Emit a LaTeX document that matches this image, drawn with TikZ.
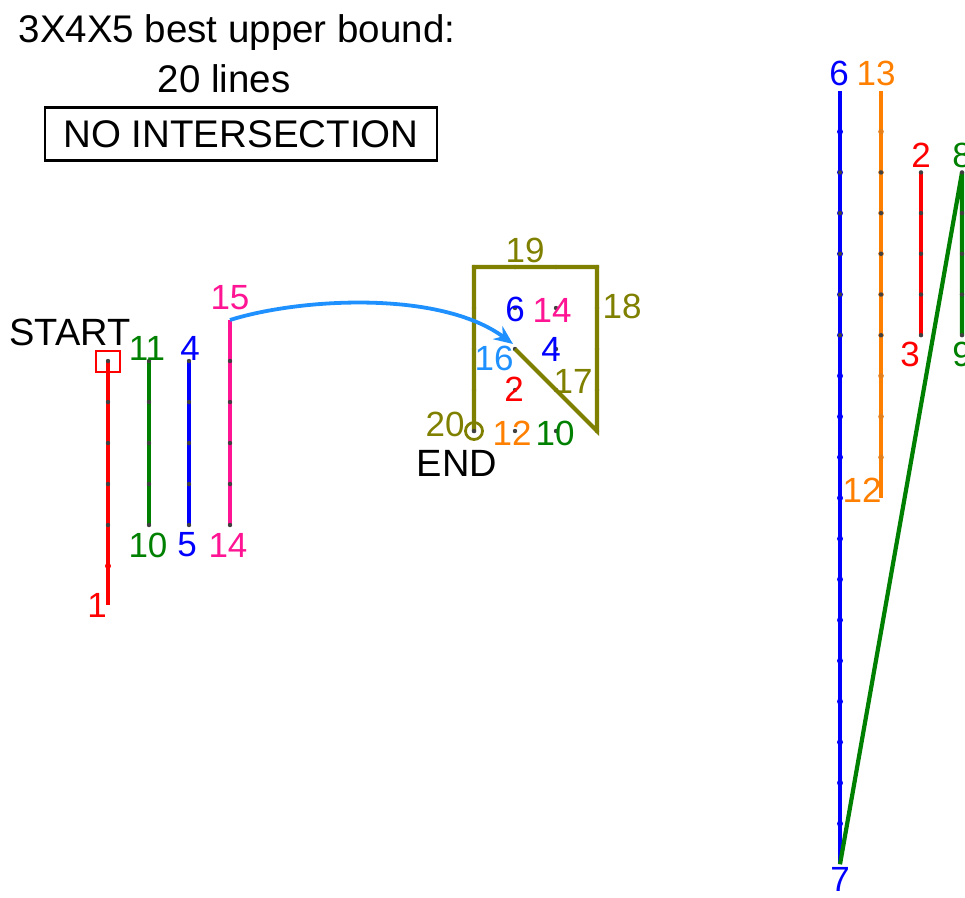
\documentclass[tikz,border=0pt]{standalone}
\usepackage{fontspec}
\setmainfont{Liberation Sans}
\usetikzlibrary{arrows.meta}
\definecolor{cred}{RGB}{255,0,0}
\definecolor{cgreen}{RGB}{0,128,0}
\definecolor{cblue}{RGB}{0,0,255}
\definecolor{cpink}{RGB}{255,20,147}
\definecolor{corange}{RGB}{255,127,0}
\definecolor{colive}{RGB}{128,128,0}
\definecolor{carrow}{RGB}{30,144,255}
\tikzset{
  big/.style={font=\fontsize{38.5}{42}\selectfont, inner sep=0pt},
  mid/.style={font=\fontsize{38}{42}\selectfont, inner sep=0pt},
  lbl/.style={font=\fontsize{35}{35}\selectfont, inner sep=0pt},
  seg/.style={line width=4.2pt},
  gdot/.style={fill=black!75},
}
\begin{document}
\begin{tikzpicture}[x=1pt,y=-1pt]
\useasboundingbox (0,0) rectangle (965,897);
% title
\node[big] (t1) at (237,33) {3X4X5 best upper bound:};
\node[big] (t2) at (224,79) {20 lines};
\node[big, draw, line width=2.2pt, minimum width=392pt, minimum height=53pt] (t3) at (241,134) {NO INTERSECTION};

% ---------- left panel ----------
\coordinate (r1) at (108,605); \coordinate (r0) at (108,361);
\coordinate (g0) at (149,361); \coordinate (g1) at (149,525);
\coordinate (b0) at (189,361); \coordinate (b1) at (189,525);
\coordinate (p0) at (230,320); \coordinate (p1) at (230,525);
\draw[seg, cred] (r0) -- (r1);
\draw[seg, cgreen] (g0) -- (g1);
\draw[seg, cblue] (b0) -- (b1);
\draw[seg, cpink] (p0) -- (p1);
\fill[cred] (108,566) circle (3pt);
\foreach \x in {108,149,189,230}
  \foreach \y in {361,402,443,484,525}
    \fill[gdot] (\x,\y) circle (2.2pt);
\node[draw=cred, line width=1.8pt, minimum width=24pt, minimum height=21pt, inner sep=0pt] (startbox) at (108,361.5) {};
\node[mid, text=black] (start) at (70,332) {START};
\node[lbl, text=cgreen] at (147,348) {11};
\node[lbl, text=cblue] at (190,348) {4};
\node[lbl, text=cpink] at (230,298) {15};
\node[lbl, text=cgreen] at (148,545) {10};
\node[lbl, text=cblue] at (187,545) {5};
\node[lbl, text=cpink] at (228,545) {14};
\node[lbl, text=cred] at (97,605) {1};

% ---------- middle panel ----------
\coordinate (m00) at (474,431); \coordinate (m01) at (474,267);
\coordinate (m11) at (597,267); \coordinate (m10) at (597,431);
\coordinate (mc) at (515,349);
\foreach \x in {474,515,556,597}
  \foreach \y in {267,308,349,390,431}
    \fill[gdot] (\x,\y) circle (2.2pt);
\draw[seg, colive, line join=miter] (m00) -- (m01) -- (m11) -- (m10) -- (mc);
\node[draw=colive, circle, line width=2.8pt, minimum size=17pt, inner sep=0pt] (endc) at (474,431) {};
\fill[gdot] (474,431) circle (2.2pt);
\node[lbl, text=colive] at (525,250) {19};
\node[lbl, text=colive] at (622,306) {18};
\node[lbl, text=cblue] at (515,309) {6};
\node[lbl, text=cpink] at (552,310) {14};
\node[lbl, text=carrow] at (494,358) {16};
\node[lbl, text=cblue] at (551,349) {4};
\node[lbl, text=colive] at (573,381) {17};
\node[lbl, text=cred] at (514,389) {2};
\node[lbl, text=colive] at (445,424) {20};
\node[lbl, text=corange] at (512,433) {12};
\node[lbl, text=cgreen] at (555,433) {10};
\node[mid] (endl) at (457,463) {END};
\coordinate (atip) at (513,344);
\draw[line width=3.8pt, carrow, -{Stealth[length=19pt,width=16pt]}] (p0) .. controls (300,298) and (440,290) .. (atip);

% ---------- right panel ----------
\coordinate (B0) at (840,91); \coordinate (B1) at (840,864.3);
\coordinate (O0) at (881,91); \coordinate (O1) at (881,498);
\coordinate (R0) at (921,172.4); \coordinate (R1) at (921,335.2);
\coordinate (G0) at (962,172.4); \coordinate (G1) at (962,335.2);
\draw[seg, cblue] (B0) -- (B1);
\draw[seg, corange] (O0) -- (O1);
\draw[seg, cred] (R0) -- (R1);
\draw[seg, cgreen] (G1) -- (G0) -- (B1);
\foreach \k in {1,...,18} \fill[cblue] (840,91+40.7*\k) circle (3pt);
\foreach \k in {1,...,9} \fill[corange!80!gray] (881,91+40.7*\k) circle (2.8pt);
\foreach \x in {840,881,921,962}
  \foreach \k in {2,...,6}
    \fill[gdot] (\x,91+40.7*\k) circle (2.2pt);
\node[lbl, text=cblue] at (839,73) {6};
\node[lbl, text=corange] at (876,73) {13};
\node[lbl, text=cred] at (921,155) {2};
\node[lbl, text=cgreen] at (962,155) {8};
\node[lbl, text=cred] at (910,354) {3};
\node[lbl, text=cgreen] at (962,354) {9};
\node[lbl, text=corange] at (862,490) {12};
\node[lbl, text=cblue] at (840,879) {7};
\end{tikzpicture}
\end{document}
